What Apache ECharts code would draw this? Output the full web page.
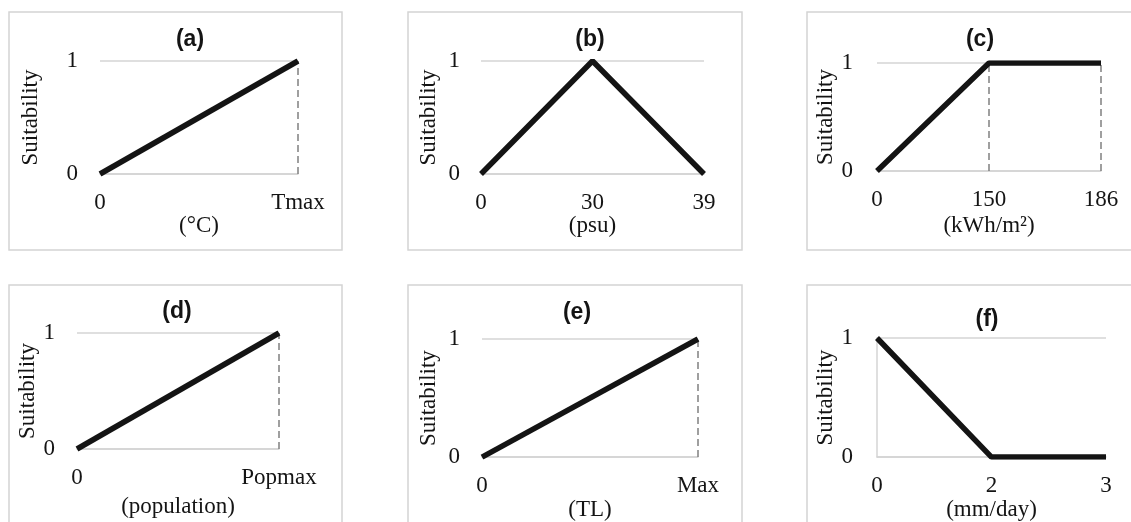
<!DOCTYPE html>
<html>
<head>
<meta charset="utf-8">
<title>Suitability functions</title>
<script src="https://cdn.jsdelivr.net/npm/echarts@6/dist/echarts.min.js"></script>
<style>
  html, body { margin: 0; padding: 0; background: #fff; }
  #chart { width: 1131px; height: 522px; }
</style>
</head>
<body>
<div id="chart"></div>
<script>
// ── Data ──────────────────────────────────────────────────────────────
const catsA = ['0', 'Tmax'];
const suitA = [0, 1];
const dropA = ['Tmax'];

const catsB = ['0', '30', '39'];
const suitB = [0, 1, 0];
const dropB = [];

const catsC = ['0', '150', '186'];
const suitC = [0, 1, 1];
const dropC = ['150', '186'];

const catsD = ['0', 'Popmax'];
const suitD = [0, 1];
const dropD = ['Popmax'];

const catsE = ['0', 'Max'];
const suitE = [0, 1];
const dropE = ['Max'];

const catsF = ['0', '2', '3'];
const suitF = [1, 0, 0];
const dropF = [];

const panelTitles = ['(a)', '(b)', '(c)', '(d)', '(e)', '(f)'];
const unitNames = ['(°C)', '(psu)', '(kWh/m²)', '(population)', '(TL)', '(mm/day)'];
const yTicks = [0, 1];

// ── Style ─────────────────────────────────────────────────────────────
const INK = '#141414';
const GRID_GRAY = '#d4d4d4';
const SERIF = '"Liberation Serif", "Times New Roman", serif';
const SANS = '"Liberation Sans", Arial, sans-serif';
const FS = 23;

// layout per panel: plot rect, label offsets, panel box, title anchor
const layout = [
  { grid: [100, 61, 198, 113], yGap: 58, xGap: 40, yMargin: 22, box: [9, 12, 333, 238], title: [190, 40], yLine: false },
  { grid: [481, 61, 223, 113], yGap: 41, xGap: 40, yMargin: 21, box: [408, 12, 334, 238], title: [590, 40], yLine: false },
  { grid: [877, 63, 224, 108], yGap: 38, xGap: 43, yMargin: 24, box: [807, 12, 340, 238], title: [980, 40], yLine: false },
  { grid: [77, 333, 202, 116], yGap: 37, xGap: 46, yMargin: 22, box: [9, 285, 333, 250], title: [177, 312], yLine: false },
  { grid: [482, 339, 216, 122], yGap: 42, xGap: 37, yMargin: 22, box: [408, 285, 334, 250], title: [577, 313], yLine: false },
  { grid: [877, 338, 229, 120], yGap: 38, xGap: 38, yMargin: 24, box: [807, 285, 340, 250], title: [987, 320], yLine: true },
];

const panels = [
  { cats: catsA, suit: suitA, drops: dropA },
  { cats: catsB, suit: suitB, drops: dropB },
  { cats: catsC, suit: suitC, drops: dropC },
  { cats: catsD, suit: suitD, drops: dropD },
  { cats: catsE, suit: suitE, drops: dropE },
  { cats: catsF, suit: suitF, drops: dropF },
];

const grids = [], xAxes = [], yAxes = [], series = [], graphics = [];

panels.forEach((p, i) => {
  const L = layout[i];
  grids.push({ left: L.grid[0], top: L.grid[1], width: L.grid[2], height: L.grid[3] });

  xAxes.push({
    type: 'category',
    gridIndex: i,
    data: p.cats,
    boundaryGap: false,
    name: unitNames[i],
    nameLocation: 'middle',
    nameGap: L.xGap,
    nameTextStyle: { fontFamily: SERIF, fontSize: FS, color: INK },
    axisLine: { show: true, lineStyle: { color: GRID_GRAY, width: 1.5 } },
    axisTick: { show: false },
    axisLabel: { fontFamily: SERIF, fontSize: FS, color: INK, margin: 17, interval: 0 },
    splitLine: { show: false },
  });

  yAxes.push({
    type: 'value',
    gridIndex: i,
    min: yTicks[0],
    max: yTicks[yTicks.length - 1],
    interval: 1,
    name: 'Suitability',
    nameLocation: 'middle',
    nameGap: L.yGap,
    nameTextStyle: { fontFamily: SERIF, fontSize: FS, color: INK },
    axisLine: { show: L.yLine, lineStyle: { color: GRID_GRAY, width: 1.5 } },
    axisTick: { show: false },
    axisLabel: { fontFamily: SERIF, fontSize: FS, color: INK, margin: L.yMargin },
    splitLine: { show: true, lineStyle: { color: GRID_GRAY, width: 1.5 } },
  });

  series.push({
    type: 'line',
    xAxisIndex: i,
    yAxisIndex: i,
    data: p.suit,
    symbol: 'none',
    lineStyle: { color: INK, width: 5.5 },
    z: 3,
    markLine: p.drops.length ? {
      silent: true,
      symbol: 'none',
      label: { show: false },
      lineStyle: { color: '#808080', width: 1.5, type: [7, 4] },
      z: 2,
      data: p.drops.map(c => ({ xAxis: c })),
    } : undefined,
  });

  // panel frame
  graphics.push({
    type: 'rect',
    shape: { x: L.box[0], y: L.box[1], width: L.box[2], height: L.box[3] },
    style: { fill: 'none', stroke: GRID_GRAY, lineWidth: 1.5 },
    z: -1,
  });
  // panel letter
  graphics.push({
    type: 'text',
    x: L.title[0],
    y: L.title[1],
    style: {
      text: panelTitles[i],
      font: 'bold 23px ' + SANS,
      fill: INK,
      textAlign: 'center',
      textVerticalAlign: 'middle',
    },
  });
});

const chart = echarts.init(document.getElementById('chart'), null, { renderer: 'canvas' });
chart.setOption({
  animation: false,
  backgroundColor: '#fff',
  grid: grids,
  xAxis: xAxes,
  yAxis: yAxes,
  series: series,
  graphic: graphics,
});
</script>
</body>
</html>
